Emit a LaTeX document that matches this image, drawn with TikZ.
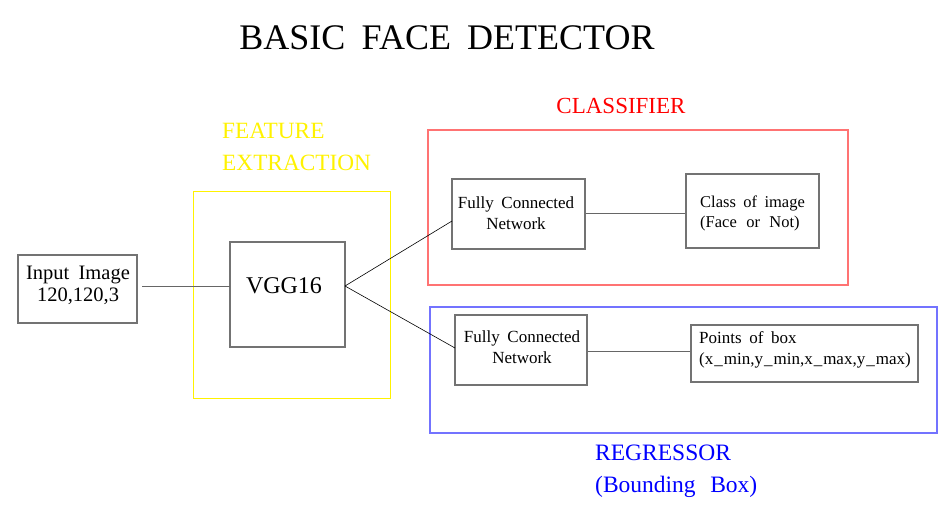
\documentclass[tikz,border=0pt]{standalone}
\usepackage{fontspec}
\setmainfont[WordSpace=1.8]{Liberation Serif}
\begin{document}
\begin{tikzpicture}[x=1pt,y=-1pt,
  blk/.style={draw=black!55,line width=1.3pt,inner sep=0pt},
  lbl/.style={inner sep=0pt,align=center},
  conn/.style={draw=black!60,line width=0.6pt},
  conb/.style={draw=black,line width=0.6pt}]
\useasboundingbox (0,0) rectangle (950,507);
% group frames
\node[draw=yellow,line width=1pt,minimum width=197pt,minimum height=207pt,inner sep=0pt] (fe) at (291.5,294.5) {};
\node[draw=red!55,line width=1.3pt,minimum width=420pt,minimum height=155pt,inner sep=0pt] (cl) at (638,207.5) {};
\node[draw=blue!55,line width=1.3pt,minimum width=507pt,minimum height=126pt,inner sep=0pt] (rg) at (683.5,370) {};
% title and labels
\node[lbl,font=\fontsize{36}{40}\selectfont] (title) at (447,38) {BASIC FACE DETECTOR};
\node[lbl,align=left,anchor=west,text=yellow,font=\fontsize{23.3}{32}\selectfont] (felbl) at (222,147) {FEATURE\\EXTRACTION};
\node[lbl,text=red,font=\fontsize{23}{28}\selectfont] (cllbl) at (621,106) {CLASSIFIER};
\node[lbl,align=left,anchor=west,text=blue,font=\fontsize{23.5}{32}\selectfont] (rglbl) at (595,471) {REGRESSOR\\(Bounding\hspace{4pt} Box)};
% blocks
\node[blk,minimum width=119pt,minimum height=68pt] (in) at (77.5,289) {};
\node[lbl,font=\fontsize{20.5}{22}\selectfont] at (78,285.5) {Input Image\\120,120,3};
\node[blk,minimum width=115pt,minimum height=105pt] (vgg) at (287.5,294.5) {};
\node[lbl,font=\fontsize{24}{24}\selectfont] at (284,286) {VGG16};
\node[blk,minimum width=133pt,minimum height=70pt] (fc1) at (518.5,214) {};
\node[lbl,font=\fontsize{17}{21}\selectfont] at (516,213) {Fully Connected\\Network};
\node[blk,minimum width=133pt,minimum height=74pt] (cls) at (752.5,211) {};
\node[lbl,align=left,anchor=west,font=\fontsize{16.5}{20}\selectfont] at (700,213) {Class of image\\(Face\hspace{2pt} or\hspace{2pt} Not)};
\node[blk,minimum width=132pt,minimum height=70pt] (fc2) at (521,350) {};
\node[lbl,font=\fontsize{17}{21}\selectfont] at (522,347) {Fully Connected\\Network};
\node[blk,minimum width=227pt,minimum height=57pt] (pts) at (804.5,353.5) {};
\node[lbl,align=left,anchor=west,font=\fontsize{17}{21}\selectfont] at (699,350) {Points of box\\(x\kern1pt\_\kern1pt min,y\kern1pt\_\kern1pt min,x\kern1pt\_\kern1pt max,y\kern1pt\_\kern1pt max)};
% connectors
\coordinate (inr) at (142,286);
\coordinate (vggl) at (230,286);
\coordinate (vggr) at (345,286);
\coordinate (fc1l) at (452,221);
\coordinate (fc2l) at (455,348);
\draw[conn] (inr) -- (vggl);
\draw[conb] (vggr) -- (fc1l);
\draw[conb] (vggr) -- (fc2l);
\draw[conn] (fc1.east |- 0,213) -- (cls.west |- 0,213);
\draw[conn] (fc2.east |- 0,351) -- (pts.west |- 0,351);
\end{tikzpicture}
\end{document}
